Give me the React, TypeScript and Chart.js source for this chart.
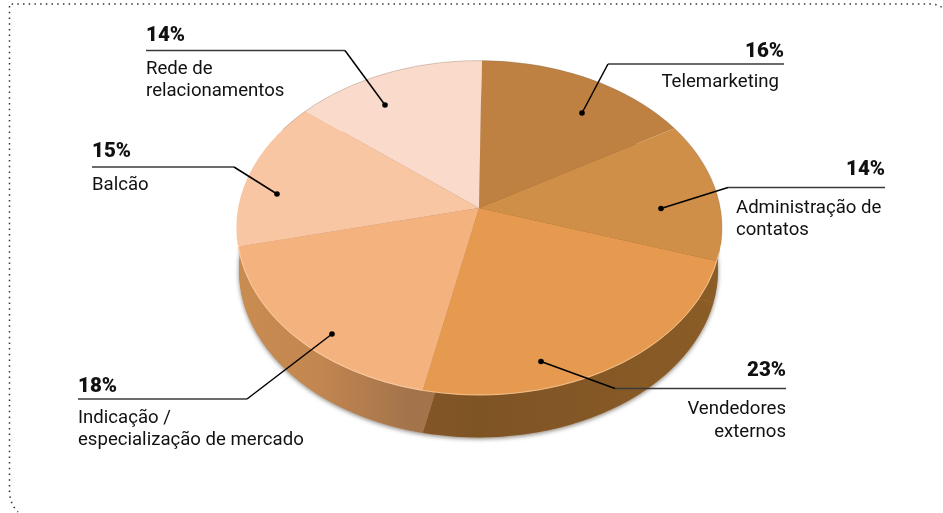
import React, { useEffect, useRef } from "react";
import { Chart, registerables } from "chart.js";

Chart.register(...registerables);

const categories = ["Telemarketing", "Administração de contatos", "Vendedores externos", "Indicação / especialização de mercado", "Balcão", "Rede de relacionamentos"];
const shares = [16, 14, 23, 18, 15, 14];
const faceColors = ["#BE8142", "#CF8F49", "#E69A50", "#F4B27F", "#F9C6A4", "#FADACA"];
const wallIsLight = [false, false, false, true, true, true];

const W = 943, H = 513;
const APEX_X = 479, APEX_Y = 208;
const FLATTEN = 0.66;
const RIM_CX = 479.2, RIM_CY = 228, RIM_RX = 242.8, RIM_RY = 167.5;
const WALL_CX = 478.5, WALL_RX = 239.5, DEPTH = 42;
const FONT = "Roboto, sans-serif";

type Callout = {
  pct: string; lines: string[]; align: "left" | "right"; textX: number; lineX: number;
  lineAlign: "left" | "right"; pctY: number; ruleY: number; ruleFrom: number; ruleTo: number;
  dot: [number, number]; lineY: number[];
};

const callouts: Callout[] = [
  { pct: "14%", lines: ["Rede de", "relacionamentos"], align: "left", textX: 146, lineX: 146, lineAlign: "left", pctY: 41, ruleY: 50.5, ruleFrom: 146, ruleTo: 345, dot: [385, 105], lineY: [74, 96] },
  { pct: "15%", lines: ["Balcão"], align: "left", textX: 92, lineX: 92, lineAlign: "left", pctY: 157, ruleY: 167, ruleFrom: 92, ruleTo: 234, dot: [277, 194], lineY: [190] },
  { pct: "18%", lines: ["Indicação /", "especialização de mercado"], align: "left", textX: 78, lineX: 78, lineAlign: "left", pctY: 392, ruleY: 399, ruleFrom: 78, ruleTo: 247, dot: [332, 334], lineY: [423, 445] },
  { pct: "16%", lines: ["Telemarketing"], align: "right", textX: 784, lineX: 779, lineAlign: "right", pctY: 57, ruleY: 64, ruleFrom: 784, ruleTo: 608, dot: [582, 113], lineY: [87] },
  { pct: "14%", lines: ["Administração de", "contatos"], align: "right", textX: 885, lineX: 736, lineAlign: "left", pctY: 175, ruleY: 187.5, ruleFrom: 885, ruleTo: 728, dot: [661, 208.5], lineY: [213, 235] },
  { pct: "23%", lines: ["Vendedores", "externos"], align: "right", textX: 786, lineX: 786, lineAlign: "right", pctY: 376, ruleY: 388.5, ruleFrom: 786, ruleTo: 615, dot: [541, 361.5], lineY: [414, 437] },
];

function rimPath(ctx: CanvasRenderingContext2D) {
  ctx.beginPath();
  ctx.ellipse(RIM_CX, RIM_CY, RIM_RX, RIM_RY, 0, 0, Math.PI * 2);
}
function wallPath(ctx: CanvasRenderingContext2D) {
  ctx.beginPath();
  ctx.ellipse(WALL_CX, RIM_CY + DEPTH, WALL_RX, RIM_RY, 0, 0, Math.PI * 2);
}

function wallGradient(ctx: CanvasRenderingContext2D, light: boolean, apexX: number) {
  const g = ctx.createLinearGradient(238 - apexX, 0, 718 - apexX, 0);
  if (light) {
    g.addColorStop(0, "#c98c50");
    g.addColorStop(0.17, "#c28650");
    g.addColorStop(0.36, "#a3734b");
    g.addColorStop(1, "#a3734b");
  } else {
    g.addColorStop(0, "#8d5c2c");
    g.addColorStop(0.5, "#7f5425");
    g.addColorStop(1, "#8a5c26");
  }
  return g;
}

const piePlugin = {
  id: "flatPie",
  beforeDatasetsDraw(chart: any) {
    const ctx: CanvasRenderingContext2D = chart.ctx;
    const arcs = chart.getDatasetMeta(0).data;
    // soft shadow under the disc
    ctx.save();
    ctx.shadowColor = "rgba(60,50,40,0.6)";
    ctx.shadowBlur = 4;
    ctx.shadowOffsetY = 1.5;
    ctx.fillStyle = "#c98c50";
    wallPath(ctx);
    ctx.fill();
    ctx.restore();
    // side wall, one wedge per slice
    arcs.forEach((arc: any, i: number) => {
      const p = arc.getProps(["x", "y", "startAngle", "endAngle", "outerRadius"], true);
      ctx.save();
      wallPath(ctx);
      ctx.clip();
      ctx.translate(p.x, p.y + DEPTH);
      ctx.scale(1, FLATTEN);
      ctx.fillStyle = wallGradient(ctx, wallIsLight[i], p.x);
      ctx.beginPath();
      ctx.moveTo(0, 0);
      ctx.arc(0, 0, p.outerRadius, p.startAngle, p.endAngle);
      ctx.closePath();
      ctx.fill();
      ctx.restore();
    });
  },
  beforeDatasetDraw(chart: any) {
    const ctx: CanvasRenderingContext2D = chart.ctx;
    const { x, y } = chart.getDatasetMeta(0).data[0];
    ctx.save();
    rimPath(ctx);
    ctx.clip();
    ctx.translate(x, y);
    ctx.scale(1, FLATTEN);
    ctx.translate(-x, -y);
  },
  afterDatasetDraw(chart: any) {
    const ctx: CanvasRenderingContext2D = chart.ctx;
    ctx.restore();
    // thin edge light on the near rim, darker on the far rim
    ctx.save();
    ctx.lineWidth = 1;
    ctx.strokeStyle = "rgba(255,236,214,0.45)";
    ctx.beginPath();
    ctx.ellipse(RIM_CX, RIM_CY, RIM_RX - 0.5, RIM_RY - 0.5, 0, 0.15, Math.PI - 0.1);
    ctx.stroke();
    ctx.strokeStyle = "rgba(110,85,60,0.28)";
    ctx.beginPath();
    ctx.ellipse(RIM_CX, RIM_CY, RIM_RX, RIM_RY, 0, -Math.PI * 0.8, 0.1);
    ctx.stroke();
    ctx.restore();
  },
  afterDraw(chart: any) {
    const ctx: CanvasRenderingContext2D = chart.ctx;
    // dotted frame
    ctx.save();
    ctx.strokeStyle = "#333";
    ctx.lineWidth = 1.5;
    ctx.setLineDash([1.5, 4.2]);
    ctx.beginPath();
    ctx.moveTo(946, 11);
    ctx.quadraticCurveTo(940, 4, 930, 4);
    ctx.lineTo(9.5, 4);
    ctx.lineTo(9.5, 490);
    ctx.quadraticCurveTo(9.5, 504, 18, 512);
    ctx.stroke();
    ctx.restore();

    // callouts
    callouts.forEach((c) => {
      ctx.save();
      ctx.strokeStyle = "#3a3a3a";
      ctx.lineWidth = 1.5;
      ctx.beginPath();
      ctx.moveTo(c.ruleFrom, c.ruleY);
      ctx.lineTo(c.ruleTo, c.ruleY);
      ctx.stroke();
      ctx.strokeStyle = "#000";
      ctx.beginPath();
      ctx.moveTo(c.ruleTo, c.ruleY);
      ctx.lineTo(c.dot[0], c.dot[1]);
      ctx.stroke();
      ctx.fillStyle = "#000";
      ctx.beginPath();
      ctx.arc(c.dot[0], c.dot[1], 2.8, 0, Math.PI * 2);
      ctx.fill();
      ctx.fillStyle = "#111";
      ctx.textBaseline = "alphabetic";
      ctx.textAlign = c.align;
      ctx.font = `900 20.5px ${FONT}`;
      ctx.fillText(c.pct, c.textX, c.pctY);
      ctx.font = `400 18.6px ${FONT}`;
      ctx.textAlign = c.lineAlign;
      c.lines.forEach((t, i) => ctx.fillText(t, c.lineX, c.lineY[i]));
      ctx.restore();
    });
  },
};

export default function App() {
  const ref = useRef<HTMLCanvasElement>(null);
  useEffect(() => {
    const chart = new Chart(ref.current!, {
      type: "pie",
      data: {
        labels: categories,
        datasets: [{ data: shares, backgroundColor: faceColors, borderWidth: 0, clip: false } as any],
      },
      options: {
        animation: false,
        responsive: false,
        radius: 340,
        rotation: 0.7,
        layout: { padding: { left: APEX_X * 2 - W, right: 0, top: 0, bottom: H - APEX_Y * 2 } },
        plugins: { legend: { display: false }, tooltip: { enabled: false }, title: { display: false } },
      } as any,
      plugins: [piePlugin],
    });
    return () => chart.destroy();
  }, []);
  return (
    <div style={{ position: "absolute", left: 0, top: 0, width: W, height: H, background: "#fff" }}>
      <canvas ref={ref} width={W} height={H} style={{ display: "block" }} />
    </div>
  );
}
